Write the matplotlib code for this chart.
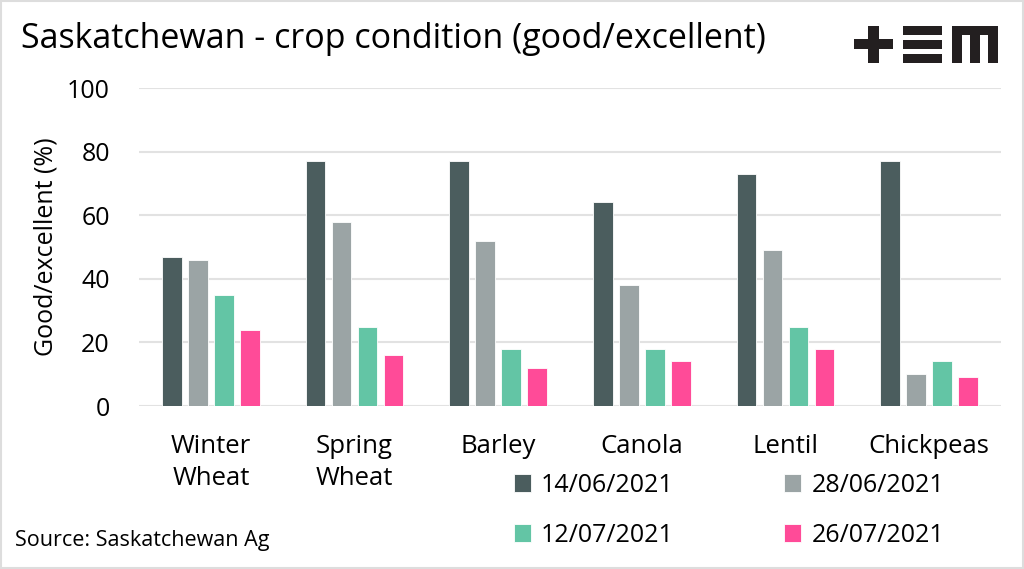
import matplotlib.pyplot as plt
import matplotlib.patches as mpatches
import numpy as np

plt.rcParams['font.family'] = ['Open Sans', 'DejaVu Sans']

crops = ['Winter\nWheat', 'Spring\nWheat', 'Barley', 'Canola', 'Lentil', 'Chickpeas']
dates = ['14/06/2021', '28/06/2021', '12/07/2021', '26/07/2021']
jun14 = [47, 77, 77, 64, 73, 77]
jun28 = [46, 58, 52, 38, 49, 10]
jul12 = [35, 25, 18, 18, 25, 14]
jul26 = [24, 16, 12, 14, 18, 9]
series = [jun14, jun28, jul12, jul26]
colors = ['#4b5d5e', '#9ba4a5', '#63c5a5', '#ff4b98']

W, H = 1024, 569
fig = plt.figure(figsize=(W / 100, H / 100), dpi=100)
ax = fig.add_axes([139 / W, 1 - 406 / H, (1001 - 139) / W, (406 - 88) / H])

x = np.arange(len(crops))
bw = 0.139
step = 0.181
for i, (vals, c) in enumerate(zip(series, colors)):
    ax.bar(x + (i - 1.5) * step, vals, width=bw, color=c, label=dates[i],
           edgecolor='white', linewidth=0.6, zorder=3)

ax.set_xlim(-0.5, len(crops) - 0.5)
ax.set_ylim(0, 100)
ax.set_yticks(range(0, 101, 20))
ax.yaxis.grid(True, color='#e2e2e2', linewidth=1.5, zorder=0)
for s in ax.spines.values():
    s.set_visible(False)
ax.tick_params(axis='both', length=0, labelsize=18)
ax.tick_params(axis='y', pad=21)
ax.tick_params(axis='x', pad=20)
ax.set_xticks(x)
ax.set_xticklabels(crops, linespacing=1.4, fontsize=18.5)
ax.set_ylabel('Good/excellent (%)', fontsize=18, labelpad=6)

fig.text(21 / W, 1 - 48 / H, 'Saskatchewan - crop condition (good/excellent)',
         fontsize=24.5, ha='left', va='baseline')
fig.text(15 / W, 1 - 546 / H, 'Source: Saskatchewan Ag', fontsize=15.5,
         ha='left', va='baseline')

# row-wise legend order
handles, labels = ax.get_legend_handles_labels()
order = [0, 2, 1, 3]
fig.legend([handles[k] for k in order], [labels[k] for k in order], ncol=2,
           loc='center left', bbox_to_anchor=(491 / W, 1 - 510 / H), frameon=False,
           fontsize=18, handlelength=0.7, handleheight=0.7,
           handletextpad=0.4, columnspacing=4.4, labelspacing=1.0)

# +EM logo
def rect(x0, y0, x1, y1):
    fig.add_artist(mpatches.Rectangle((x0 / W, 1 - y1 / H), (x1 - x0) / W, (y1 - y0) / H,
                                      transform=fig.transFigure, color='#231f20', lw=0))

rect(854, 39, 893, 49)
rect(868, 26, 879, 63)
rect(903, 26, 942, 35)
rect(903, 40, 942, 49)
rect(903, 54, 942, 63)
rect(952, 26, 998, 35)
rect(952, 26, 962, 63)
rect(970, 26, 980, 63)
rect(988, 26, 998, 63)

fig.add_artist(mpatches.Rectangle((0.001, 0.001), 0.998, 0.997, transform=fig.transFigure,
                                  fill=False, edgecolor='#dddddd', lw=1.5))

fig.savefig('out.png', dpi=100)
